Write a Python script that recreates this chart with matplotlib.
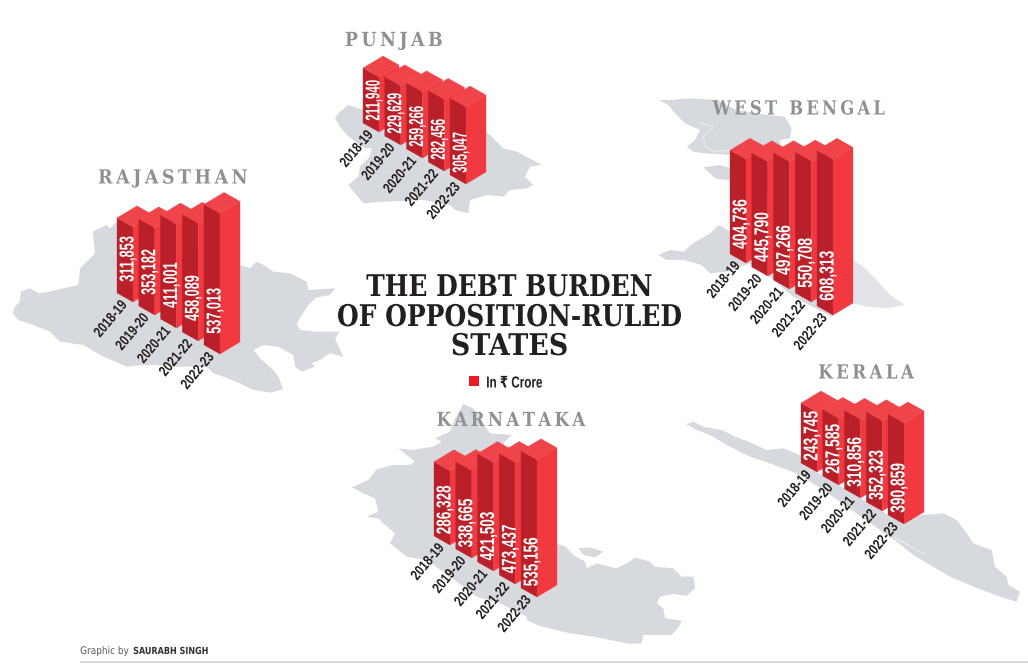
"""
plot.py - isometric bars of state debt on grey state maps, saved as out.png (1028x667).
"""

import math

import matplotlib
matplotlib.use("Agg")

import matplotlib.pyplot as plt
import numpy as np
from matplotlib.patches import Polygon, Rectangle
from matplotlib.patheffects import AbstractPathEffect
from matplotlib.transforms import Affine2D

# ---------------------------------------------------------------------------
# Data
# ---------------------------------------------------------------------------

YEARS = ["2018-19", "2019-20", "2020-21", "2021-22", "2022-23"]

RAJASTHAN = [311853, 353182, 411001, 458089, 537013]
PUNJAB = [211940, 229629, 259266, 282456, 305047]
WEST_BENGAL = [404736, 445790, 497266, 550708, 608313]
KARNATAKA = [286328, 338665, 421503, 473437, 535156]
KERALA = [243745, 267585, 310856, 352323, 390859]

TITLE_LINES = ["THE DEBT BURDEN", "OF OPPOSITION-RULED", "STATES"]

# ---------------------------------------------------------------------------
# Style
# ---------------------------------------------------------------------------

MAP_GREY = "#d6d9dd"
DELTA_GREY = "#e2e4e8"
CHANNEL = "#eef0f2"
NAME_GREY = "#8e9194"
INK = "#231f20"
FACE_DARK = "#ba2029"
FACE_RIGHT = "#f1393f"
FACE_TOP = "#ef454a"
KEY_RED = "#ed1c24"

SANS = ["Liberation Sans", "DejaVu Sans"]
SLAB = ["DejaVu Serif"]

# Bar shape in page pixels
LEFT_EDGE = (-16, -9)
RIGHT_EDGE = (20, -12)
BAR_STEP = (21.75, 13)

# name, values, front foot of first bar, px per crore, px offset, label inset, label length
STATES = [
    ("RAJASTHAN", RAJASTHAN, (133, 302), 0.000291, -15.6, 20, 45),
    ("PUNJAB", PUNJAB, (379, 132), 0.000236, 5.0, 11, 40),
    ("WEST BENGAL", WEST_BENGAL, (746, 263), 0.000255, 0.6, 14, 49),
    ("KARNATAKA", KARNATAKA, (450, 545), 0.000253, 1.8, 10.5, 48),
    ("KERALA", KERALA, (817, 472), 0.000279, -8.0, 11, 49),
]

# name, centre x, baseline y, width
STATE_NAMES = [
    ("RAJASTHAN", 173, 183.5, 148),
    ("PUNJAB", 394, 46, 96),
    ("WEST BENGAL", 799, 114.5, 172),
    ("KARNATAKA", 511, 426, 148),
    ("KERALA", 866, 378.5, 95),
]

# Map outlines, traced on 3x crops: (crop left, crop top, points in crop pixels)
MAPS = [
    # Rajasthan
    (0, 210, [(38, 310), (45, 290), (60, 275), (62, 245), (90, 235), (115, 250), (145, 245),
              (190, 235), (235, 225), (240, 175), (255, 160), (285, 130), (278, 65), (320, 45),
              (330, 55), (350, 35), (720, 165), (750, 175), (770, 155), (790, 165), (820, 185),
              (870, 190), (920, 215), (925, 240), (1005, 235), (990, 255), (950, 262), (925, 285),
              (890, 340), (900, 360), (950, 365), (1020, 365), (1005, 385), (1030, 440), (990, 430),
              (960, 450), (935, 460), (945, 470), (905, 485), (885, 470), (880, 435), (835, 410),
              (790, 405), (760, 420), (780, 445), (820, 480), (835, 500), (850, 538), (810, 548),
              (760, 540), (720, 520), (670, 500), (640, 490), (620, 470), (520, 470), (470, 465),
              (430, 465), (380, 470), (310, 440), (250, 405), (180, 395), (150, 365), (100, 345),
              (55, 330)]),
    # Punjab
    (340, 20, [(-15, 295), (0, 275), (25, 255), (70, 270), (120, 280), (430, 330), (450, 345),
               (490, 385), (530, 395), (560, 410), (605, 435), (570, 440), (555, 470), (580, 495),
               (560, 505), (510, 510), (490, 530), (440, 525), (390, 540), (385, 580), (345, 570),
               (330, 555), (250, 540), (130, 545), (70, 550), (25, 495), (55, 470), (60, 440),
               (90, 410), (95, 385), (75, 385), (60, 375), (20, 345), (0, 320)]),
    # West Bengal, north
    (650, 90, [(25, 30), (60, 30), (120, 25), (200, 30), (260, 60), (350, 75), (405, 80),
               (425, 115), (420, 145), (390, 150), (400, 300), (300, 300), (240, 195), (165, 190),
               (130, 185), (110, 170), (135, 150), (150, 120), (105, 100), (75, 70), (55, 45)]),
    (650, 90, [(160, 232), (210, 225), (260, 240), (260, 275), (195, 265)]),
    # West Bengal, south
    (650, 90, [(25, 495), (60, 480), (100, 485), (130, 460), (180, 430), (205, 405), (225, 415),
               (260, 440), (610, 510), (610, 640), (545, 680), (430, 620), (370, 570), (300, 520),
               (230, 545), (180, 550), (155, 525), (100, 510), (50, 510)]),
    # Karnataka, west of the bars
    (340, 400, [(35, 262), (85, 240), (110, 208), (160, 195), (210, 195), (225, 185), (175, 145),
                (215, 150), (280, 140), (305, 125), (285, 115), (330, 95), (345, 55), (370, 12),
                (400, 25), (420, 50), (430, 75), (450, 100), (515, 105), (490, 130), (620, 350),
                (620, 660), (560, 650), (480, 610), (410, 590), (330, 530), (260, 480), (200, 470),
                (150, 430), (165, 400), (130, 370), (115, 355), (80, 350), (115, 335), (105, 295),
                (70, 280)]),
    # Karnataka, east of the bars
    (540, 520, [(-40, 60), (50, 72), (75, 78), (100, 105), (135, 125), (140, 145), (170, 130),
                (230, 145), (270, 125), (285, 112), (330, 125), (345, 140), (400, 145), (425, 170),
                (460, 170), (465, 205), (440, 228), (400, 222), (360, 230), (350, 250), (370, 265),
                (375, 295), (425, 302), (415, 322), (395, 345), (310, 345), (305, 370), (270, 372),
                (160, 350), (90, 340), (0, 318), (-40, 300)]),
    (540, 520, [(115, 85), (150, 82), (190, 95), (165, 112), (130, 105)]),
    # Kerala
    (680, 360, [(18, 192), (40, 185), (70, 200), (125, 210), (165, 230), (205, 245), (260, 270),
                (310, 265), (360, 285), (400, 330), (650, 480), (730, 465), (790, 460), (830, 480),
                (860, 520), (880, 550), (935, 570), (945, 620), (980, 650), (985, 675), (1020, 695),
                (1010, 725), (960, 710), (880, 680), (810, 650), (750, 615), (700, 585), (650, 545),
                (600, 510), (500, 440), (430, 390), (350, 340), (270, 310), (210, 290), (150, 260),
                (90, 225), (50, 210)]),
]

BENGAL_DELTA = (650, 90, [(610, 510), (640, 530), (680, 570), (720, 615), (765, 645), (710, 655),
                          (650, 650), (610, 640)])
# Thin channels inside the maps: (crop left, crop top, points, line width)
CHANNELS = [
    (680, 360, [(645, 532), (700, 565), (735, 582)], 0.8),
    (650, 90, [(150, 97), (190, 112), (160, 140), (165, 170), (195, 185), (240, 180)], 0.7),
]


class FitLength(AbstractPathEffect):
    """Draws a text squeezed or stretched along its baseline to a length in pixels."""

    def __init__(self, length, about="left"):
        super().__init__()
        self.length = length
        self.about = about

    def draw_path(self, renderer, gc, tpath, affine, rgbFace=None):
        ext = tpath.get_extents()
        m = affine.get_matrix()
        unit = math.hypot(m[0, 0], m[1, 0])
        sx = self.length / (ext.width * unit)
        pivot = (ext.x0 + ext.x1) / 2 if self.about == "center" else ext.x0
        squeeze = Affine2D().translate(-pivot, 0).scale(sx, 1).translate(pivot, 0)
        renderer.draw_path(gc, tpath, squeeze + affine, rgbFace)


def crop_points(left, top, pts):
    return np.array(pts, dtype=float) / 3 + (left, top)


def draw_bar(ax, foot, height, z):
    x, y = foot
    lx, ly = LEFT_EDGE
    rx, ry = RIGHT_EDGE
    top = y - height
    ax.add_patch(Polygon([(x, y), (x + lx, y + ly), (x + lx, top + ly), (x, top)],
                         closed=True, fc=FACE_DARK, ec=FACE_DARK, lw=0.2, zorder=z))
    ax.add_patch(Polygon([(x, y), (x + rx, y + ry), (x + rx, top + ry), (x, top)],
                         closed=True, fc=FACE_RIGHT, ec=FACE_RIGHT, lw=0.2, zorder=z))
    ax.add_patch(Polygon([(x, top), (x + lx, top + ly), (x + lx + rx, top + ly + ry), (x + rx, top + ry)],
                         closed=True, fc=FACE_TOP, ec=FACE_TOP, lw=0.2, zorder=z))


fig = plt.figure(figsize=(10.28, 6.67), dpi=100, facecolor="white")
ax = fig.add_axes([0, 0, 1, 1])
ax.set_xlim(0, 1028)
ax.set_ylim(667, 0)
ax.axis("off")

# ── Maps ────────────────────────────────────────────────────────────────
for left, top, pts in MAPS:
    ax.add_patch(Polygon(crop_points(left, top, pts), closed=True, fc=MAP_GREY, ec="none", zorder=1))
ax.add_patch(Polygon(crop_points(*BENGAL_DELTA), closed=True, fc=DELTA_GREY, ec="none", zorder=1))
for left, top, pts, lw in CHANNELS:
    line = crop_points(left, top, pts)
    ax.plot(line[:, 0], line[:, 1], color=CHANNEL, lw=lw, zorder=1.5)

# ── Bars ────────────────────────────────────────────────────────────────
for name, values, origin, px_per_crore, offset, inset, label_len in STATES:
    for i, value in enumerate(values):
        foot = (origin[0] + i * BAR_STEP[0], origin[1] + i * BAR_STEP[1])
        height = value * px_per_crore + offset
        z = 3 + i
        draw_bar(ax, foot, height, z)
        ax.text(foot[0] + 0.5, foot[1] - inset, f"{value:,}", color="white", fontsize=14.5,
                family=SANS, weight="bold", rotation=90, ha="left", va="baseline",
                rotation_mode="anchor", path_effects=[FitLength(label_len)], zorder=z + 0.5)
        ax.text(foot[0] - 33, foot[1] + 36, YEARS[i], color=INK, fontsize=10.5, family=SANS,
                weight="bold", rotation=50, ha="left", va="baseline",
                rotation_mode="anchor", path_effects=[FitLength(42)], zorder=9)

# ── Texts ───────────────────────────────────────────────────────────────
for name, cx, base, width in STATE_NAMES:
    ax.text(cx, base, "\u2009".join(name), color=NAME_GREY, fontsize=14, family=SLAB, weight="bold",
            ha="center", va="baseline", path_effects=[FitLength(width, about="center")], zorder=10)

TITLE_BASES = [296, 326, 355]
TITLE_WIDTHS = [285, 343, 114]
for line, base, width in zip(TITLE_LINES, TITLE_BASES, TITLE_WIDTHS):
    ax.text(509.5, base, line, color=INK, fontsize=21.5, family=SLAB, weight="bold",
            ha="center", va="baseline", path_effects=[FitLength(width, about="center")], zorder=10)

ax.add_patch(Rectangle((469.3, 375.7), 10, 10, fc=KEY_RED, ec="none", zorder=10))
ax.text(486, 387.5, "In ₹ Crore", color=INK, fontsize=11.5, family=SANS, weight="bold", ha="left",
        va="baseline", path_effects=[FitLength(55)], zorder=10)

ax.text(80, 654, "Graphic by", color="#58595b", fontsize=7.5, family=["DejaVu Sans"], ha="left",
        va="baseline", path_effects=[FitLength(48)], zorder=10)
ax.text(133, 654, "SAURABH SINGH", color="#333333", fontsize=7, family=["DejaVu Sans"], weight="bold",
        ha="left", va="baseline", path_effects=[FitLength(74)], zorder=10)
ax.add_patch(Rectangle((80, 661), 948, 2, fc="#d9d9d9", ec="none", zorder=2))

fig.savefig("out.png", dpi=100, facecolor="white")
plt.close(fig)
